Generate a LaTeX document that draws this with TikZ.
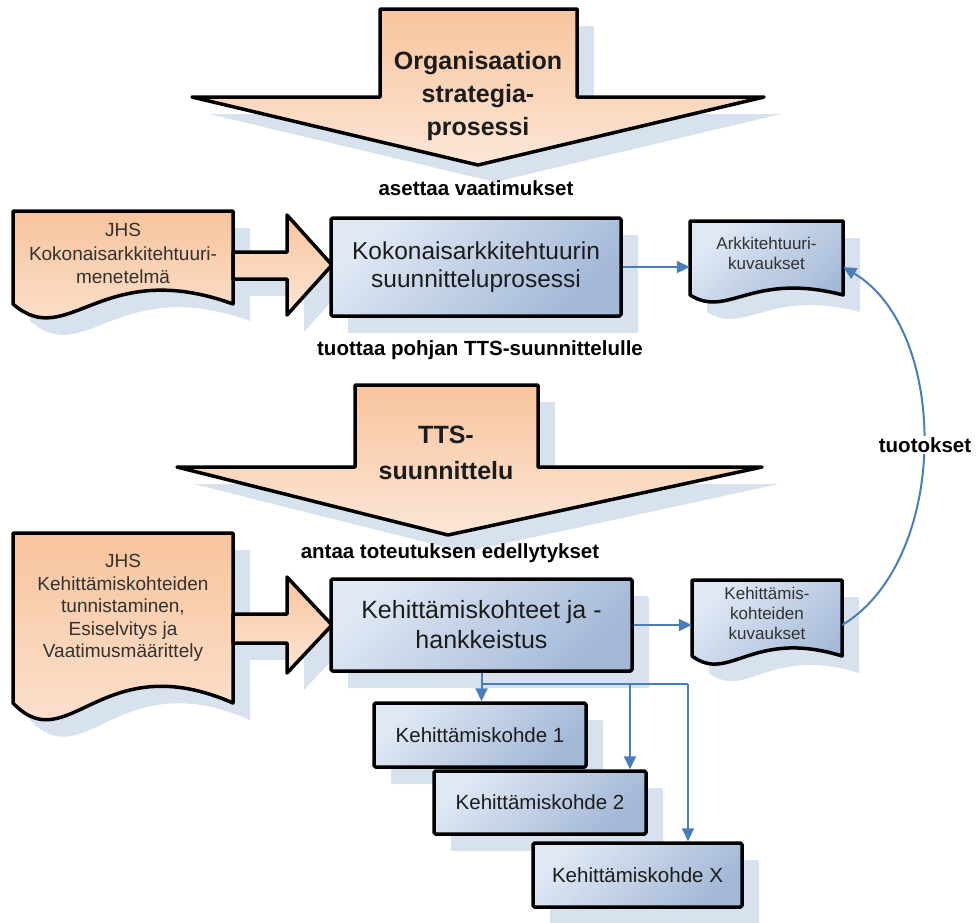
\documentclass[tikz,border=0pt]{standalone}
\usepackage{fontspec}
\setmainfont{Liberation Sans}
\usetikzlibrary{arrows.meta,shadows,calc}

\definecolor{shadowc}{RGB}{216,225,238}
\definecolor{orangetop}{RGB}{248,196,156}
\definecolor{orangebot}{RGB}{252,230,215}
\definecolor{boxlight}{RGB}{224,232,244}
\definecolor{boxdark}{RGB}{163,184,215}
\definecolor{linkblue}{RGB}{74,126,187}
\definecolor{textc}{RGB}{28,28,28}
\definecolor{doctext}{RGB}{50,50,50}

% document symbol: flat top, wavy bottom edge
% #1 options, #2 x0, #3 y0, #4 x1, #5 bottom-left y, #6 bottom-right y, #7 wave depth
\newcommand\docshape[7]{%
  \path[#1] (#2,#3) -- (#4,#3) -- (#4,#6)
    .. controls ({#2+0.4*(#4-#2)},{#6-#7}) and ({#2+0.25*(#4-#2)},{#5+#7}) .. (#2,#5) -- cycle;}

\begin{document}
\begin{tikzpicture}[x=1pt,y=-1pt,
  sh/.style={drop shadow={shadow xshift=17pt,shadow yshift=-17pt,fill=shadowc,opacity=1}},
  outline/.style={draw=black,line width=3.5pt,line join=round},
  peach/.style={outline,top color=orangetop,bottom color=orangebot},
  bluedoc/.style={outline,top color=boxlight,bottom color=boxdark,shading angle=45},
  bluebox/.style={outline,top color=boxlight,bottom color=boxdark,shading angle=45,
    rounded corners=1.5pt,inner sep=0pt,align=center,text=textc},
  doctxt/.style={align=center,text=doctext,inner sep=0pt},
  flowlabel/.style={font=\bfseries\fontsize{20.5}{24}\selectfont,text=black,inner sep=1pt},
  arrowtitle/.style={align=center,text=textc,inner sep=0pt},
  bluearr/.style={draw=linkblue,line width=2pt,-{Triangle[length=13pt,width=12pt]}},
  blueline/.style={draw=linkblue,line width=2pt},
]
\fill[white] (0,0) rectangle (979,922);
\useasboundingbox (0,0) rectangle (979,922);

% strategy process arrow
\path[sh,peach] (380,9) -- (577,9) -- (577,97) -- (764,97) -- (478,165)
  -- (192,97) -- (380,97) -- cycle;
\node[arrowtitle,font=\bfseries\fontsize{25}{33}\selectfont] (strategy) at (478,96)
  {Organisaation\\strategia-\\prosessi};
\node[flowlabel] (req) at (476,188) {asettaa vaatimukset};

% enterprise architecture row
\docshape{sh,peach}{13}{211}{233}{304}{304}{48}
\node[doctxt,font=\fontsize{19}{23.5}\selectfont,minimum width=220pt] (jhs1) at (123,253.5)
  {JHS\\Kokonaisarkkitehtuuri-\\menetelmä};
\path[sh,peach] (233,252) -- (287,252) -- (287,215) -- (332,265) -- (287,315)
  -- (287,279) -- (233,279) -- cycle;
\node[sh,bluebox,font=\fontsize{24.5}{28.5}\selectfont,minimum width=290pt,minimum height=98pt]
  (ea) at (476,267) {Kokonaisarkkitehtuurin\\suunnitteluprosessi};
\docshape{sh,bluedoc}{690}{221}{843}{295}{295}{24}
\node[doctxt,font=\fontsize{17}{20}\selectfont,minimum width=153pt] (eadocs) at (766.5,253)
  {Arkkitehtuuri-\\kuvaukset};
\draw[bluearr] (ea.east) -- (ea.east -| eadocs.west);
\node[flowlabel] (base) at (480,350) {tuottaa pohjan TTS-suunnittelulle};

% TTS planning arrow
\path[sh,peach] (355,385) -- (538,385) -- (538,467) -- (762,467) -- (448,535)
  -- (177,467) -- (355,467) -- cycle;
\node[arrowtitle,font=\bfseries\fontsize{25}{36}\selectfont] (tts) at (446,453)
  {TTS-\\suunnittelu};
\node[flowlabel] (prereq) at (450,553) {antaa toteutuksen edellytykset};

% development targets row
\docshape{sh,peach}{13}{533}{233}{703}{703}{58}
\node[doctxt,font=\fontsize{19}{22.5}\selectfont,minimum width=220pt] (jhs2) at (123,608)
  {JHS\\Kehittämiskohteiden\\tunnistaminen,\\Esiselvitys ja\\Vaatimusmäärittely};
\path[sh,peach] (233,614) -- (287,614) -- (287,577) -- (332,625) -- (287,673)
  -- (287,643) -- (233,643) -- cycle;
\node[sh,bluebox,font=\fontsize{25}{30}\selectfont,minimum width=301pt,minimum height=92pt]
  (dev) at (481.5,625) {Kehittämiskohteet ja -\\hankkeistus};
\docshape{sh,bluedoc}{692}{580}{842}{656}{656}{28}
\node[doctxt,font=\fontsize{17}{20}\selectfont,minimum width=150pt] (devdocs) at (767,613)
  {Kehittämis-\\kohteiden\\kuvaukset};
\draw[bluearr] (dev.east) -- (dev.east -| devdocs.west);

% individual development targets
\node[sh,bluebox,font=\fontsize{20.5}{24}\selectfont,minimum width=212pt,minimum height=64pt]
  (item1) at (480,735) {Kehittämiskohde 1};
\node[sh,bluebox,font=\fontsize{20.5}{24}\selectfont,minimum width=212pt,minimum height=63pt]
  (item2) at (540,802.5) {Kehittämiskohde 2};
\node[sh,bluebox,font=\fontsize{20.5}{24}\selectfont,minimum width=209pt,minimum height=64pt]
  (itemx) at (637.5,875) {Kehittämiskohde X};

\coordinate (split) at (481.5,684);
\coordinate (fork2) at (630,684);
\coordinate (fork3) at (688,684);
\draw[bluearr] (dev.south) -- (dev.south |- item1.north);
\draw[blueline] (split) -- (fork3);
\draw[bluearr] (fork2) -- (fork2 |- item2.north);
\draw[bluearr] (fork3) -- (fork3 |- itemx.north);

% outputs loop
\draw[bluearr] (dev.east -| devdocs.east) .. controls (950,560) and (950,330) .. (ea.east -| eadocs.east);
\node[flowlabel,fill=white] (outputs) at (925,445) {tuotokset};
\end{tikzpicture}
\end{document}
